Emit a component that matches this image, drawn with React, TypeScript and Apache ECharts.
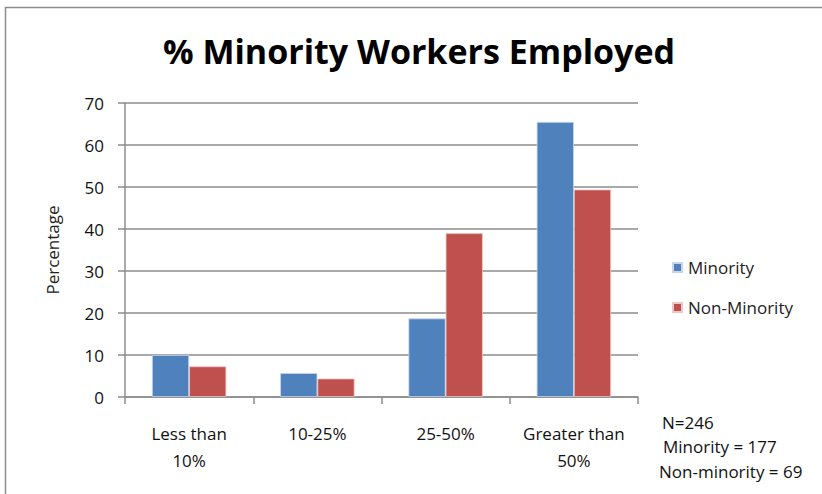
import React, { useEffect, useRef } from "react";
import * as echarts from "echarts";

const categories = ["Less than\n10%", "10-25%", "25-50%", "Greater than\n50%"];
const minority = [10.0, 5.7, 18.7, 65.5];
const nonMinority = [7.3, 4.4, 39.0, 49.4];
const yTicks = { min: 0, max: 70, interval: 10 };
const notes = ["N=246", "Minority = 177", "Non-minority = 69"];

const FONT = "'Open Sans', Lato, sans-serif";

export default function App() {
  const ref = useRef<HTMLDivElement>(null);
  useEffect(() => {
    if (!ref.current) return;
    const chart = echarts.init(ref.current, undefined, { renderer: "svg" });
    chart.setOption({
      animation: false,
      backgroundColor: "#ffffff",
      textStyle: { fontFamily: FONT },
      title: {
        text: "% Minority Workers Employed",
        left: 414,
        top: 29,
        textAlign: "center",
        textStyle: { fontSize: 34, fontWeight: "bold", color: "#000", fontFamily: FONT },
      },
      grid: { left: 125, right: 184, top: 103, bottom: 97 },
      legend: {
        orient: "vertical",
        left: 672,
        top: 259,
        padding: 0,
        itemWidth: 9,
        itemHeight: 9,
        itemGap: 23,
        icon: "rect",
        textStyle: { fontSize: 17, color: "#222", fontFamily: FONT, padding: [0, 0, 0, 1] },
        data: ["Minority", "Non-Minority"],
      },
      xAxis: {
        type: "category",
        data: categories,
        axisLine: { lineStyle: { color: "#8c8c8c", width: 1.5 } },
        axisTick: { show: true, interval: 0, length: 7, lineStyle: { color: "#8c8c8c", width: 1.5 } },
        axisLabel: {
          interval: 0,
          hideOverlap: false,
          fontSize: 17,
          lineHeight: 27,
          color: "#111",
          margin: 23,
          fontFamily: FONT,
        },
      },
      yAxis: {
        type: "value",
        min: yTicks.min,
        max: yTicks.max,
        interval: yTicks.interval,
        name: "Percentage",
        nameLocation: "middle",
        nameGap: 64,
        nameRotate: 90,
        nameTextStyle: { fontSize: 17, color: "#222", fontFamily: FONT },
        axisLine: { show: true, lineStyle: { color: "#8c8c8c", width: 1.5 } },
        axisTick: { show: true, length: 7, lineStyle: { color: "#8c8c8c", width: 1.5 } },
        axisLabel: { fontSize: 17, color: "#111", margin: 21, fontFamily: FONT },
        splitLine: { lineStyle: { color: "#8c8c8c", width: 1.5 } },
      },
      series: [
        {
          name: "Minority",
          type: "bar",
          data: minority,
          barGap: "0%",
          barCategoryGap: "42%",
          itemStyle: { color: "#4F81BD", borderColor: "#c9d6ea", borderWidth: 0.8 },
        },
        {
          name: "Non-Minority",
          type: "bar",
          data: nonMinority,
          itemStyle: { color: "#C0504D", borderColor: "#ecc9c8", borderWidth: 0.8 },
        },
      ],
      graphic: [
        {
          type: "rect",
          shape: { x: 5.5, y: 7.5, width: 830, height: 500 },
          style: { fill: "none", stroke: "#8c8c8c", lineWidth: 1.5 },
          silent: true,
        },
        ...notes.map((t, i) => ({
          type: "text",
          x: [662, 663, 659][i],
          y: [422, 446, 471][i],
          style: {
            text: t,
            fontSize: 17,
            fill: "#111",
            fontFamily: FONT,
            verticalAlign: "middle",
          },
        })),
      ],
    });
    return () => chart.dispose();
  }, []);
  return (
    <div
      ref={ref}
      style={{ position: "fixed", left: 0, top: 0, width: 822, height: 494 }}
    />
  );
}
